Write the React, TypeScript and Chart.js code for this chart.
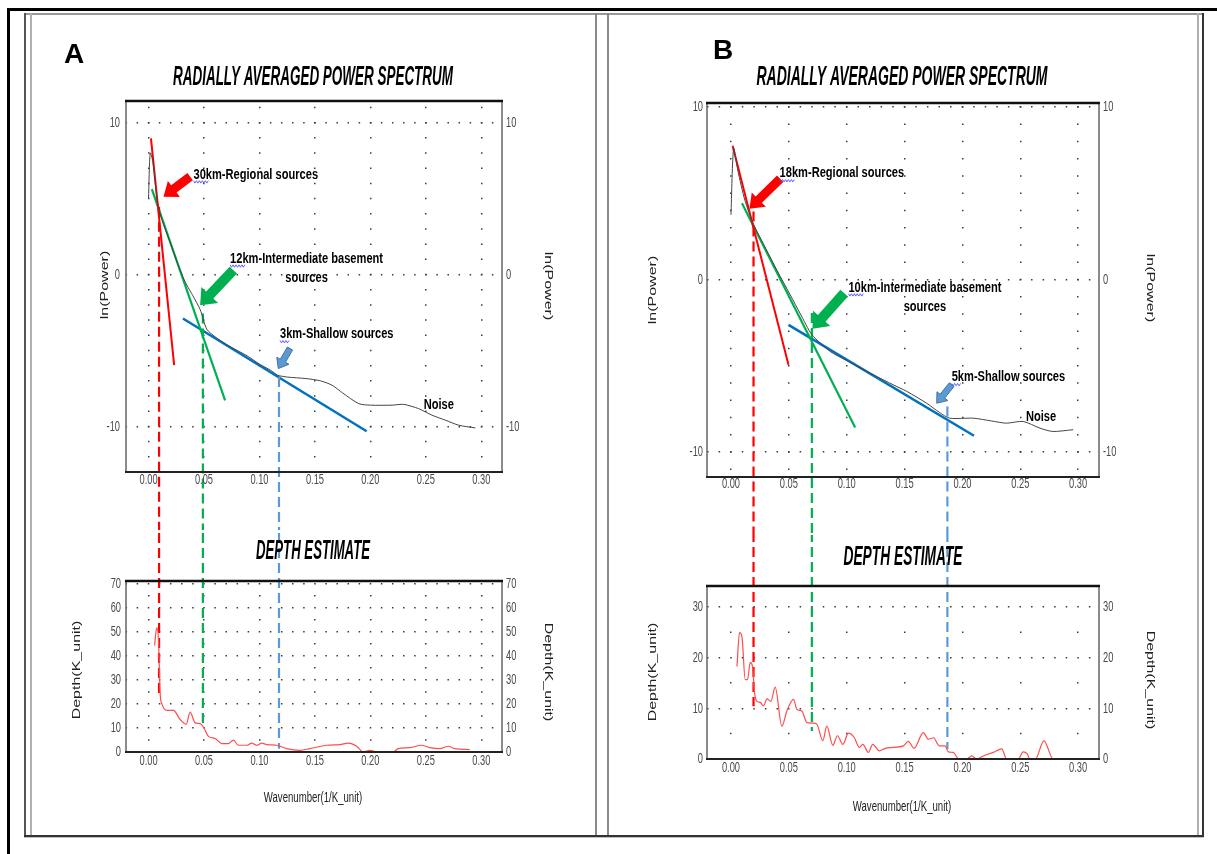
import React, { useEffect, useRef } from "react";
import { Chart, registerables } from "chart.js";

Chart.register(...registerables);
Chart.defaults.font.family = '"Liberation Sans", Arial, sans-serif';

// ---------------- shared ticks ----------------
const wavenumberTicks = [0, 0.05, 0.1, 0.15, 0.2, 0.25, 0.3];
const powerTicks = [-10, 0, 10];
const depthTicksA = [0, 10, 20, 30, 40, 50, 60, 70];
const depthTicksB = [0, 10, 20, 30];

// ---------------- Panel A ----------------
const spectrumAX = [0, 0.0015, 0.004, 0.009, 0.02, 0.03, 0.0345, 0.04, 0.0465, 0.0525, 0.06, 0.07, 0.08, 0.09, 0.1, 0.11, 0.1165, 0.125, 0.142, 0.155, 0.1655, 0.175, 0.1895, 0.2, 0.2195, 0.23, 0.2435, 0.2555, 0.268, 0.2795, 0.2945];
const spectrumAY = [5.0, 8.0, 7.4, 4.4, 2.0, 0.0, -0.7, -1.4, -2.3, -3.6, -4.1, -4.6, -5.0, -5.4, -5.9, -6.3, -6.63, -6.75, -6.85, -7.0, -7.29, -7.8, -8.5, -8.6, -8.6, -8.55, -8.83, -9.26, -9.6, -9.92, -10.1];
const fitRedAX = [0.0022, 0.0231];
const fitRedAY = [8.96, -5.97];
const fitGreenAX = [0.003, 0.069];
const fitGreenAY = [5.62, -8.28];
const fitBlueAX = [0.031, 0.1966];
const fitBlueAY = [-2.9, -10.32];
const breakAX = [0.0095, 0.049, 0.1176];
const breakAPower = [4.46, -2.57, -6.74];
const breakADepth = [23.6, 11.8, 1.4];
const depthAX = [0.0054, 0.0075, 0.009, 0.0105, 0.012, 0.0166, 0.0225, 0.0285, 0.034, 0.0375, 0.042, 0.0465, 0.0495, 0.054, 0.06, 0.066, 0.072, 0.0765, 0.081, 0.0886, 0.093, 0.0976, 0.102, 0.1066, 0.1156, 0.1246, 0.1366, 0.1455, 0.1606, 0.1726, 0.18, 0.1876, 0.1935, 0.1995, 0.2056, 0.2205, 0.225, 0.2355, 0.246, 0.2535, 0.2625, 0.27, 0.276, 0.2895];
const depthAY = [44.3, 51.7, 46.4, 24.3, 20.1, 17.3, 17.3, 13.5, 11.5, 16.6, 12.1, 11.8, 10.4, 6.5, 5.6, 3.5, 3.5, 4.9, 2.8, 2.8, 3.7, 2.8, 3.7, 3.1, 2.8, 1.4, 0.7, 1.4, 2.8, 3.1, 3.7, 2.4, 0, 0.7, 0, 0, 1.4, 1.8, 2.8, 1.8, 1.4, 2.4, 1.4, 1.0];
const notesA = ["30km-Regional sources", "12km-Intermediate basement\nsources", "3km-Shallow sources", "Noise"];
const notesAX = [0.0405, 0.0735, 0.1185, 0.248];
const notesAY = [6.59, 1.05, -3.93, -8.6];
const arrowATailX = [0.0375, 0.0764, 0.1275];
const arrowATailY = [6.44, 0.29, -4.87];
const arrowATipX = [0.0135, 0.0465, 0.117];
const arrowATipY = [5.12, -2.02, -6.19];

// ---------------- Panel B ----------------
const spectrumBX = [0, 0.0023, 0.006, 0.012, 0.0195, 0.03, 0.04, 0.0512, 0.06, 0.07, 0.0857, 0.1, 0.123, 0.14, 0.152, 0.169, 0.18, 0.189, 0.2094, 0.225, 0.238, 0.2525, 0.267, 0.278, 0.2957];
const spectrumBY = [3.75, 7.6, 6.3, 4.6, 3.2, 1.8, 0.5, -0.89, -2.0, -3.2, -4.17, -4.7, -5.52, -6.1, -6.49, -7.17, -7.7, -8.04, -8.04, -8.2, -8.33, -8.23, -8.62, -8.81, -8.71];
const fitRedBX = [0.0014, 0.0497];
const fitRedBY = [7.75, -4.95];
const fitGreenBX = [0.0095, 0.1073];
const fitGreenBY = [4.42, -8.58];
const fitBlueBX = [0.0497, 0.21];
const fitBlueBY = [-2.63, -9.06];
const breakBX = [0.0195, 0.0699, 0.187];
const breakBPower = [3.94, -1.95, -7.36];
const breakBDepth = [10.45, 5.55, 2.0];
const depthBX = [0.0052, 0.0074, 0.0095, 0.0123, 0.0143, 0.0167, 0.0186, 0.0204, 0.0224, 0.0253, 0.0281, 0.0311, 0.0345, 0.0382, 0.044, 0.0483, 0.054, 0.057, 0.0613, 0.0656, 0.0713, 0.0742, 0.0794, 0.0828, 0.088, 0.092, 0.0967, 0.1015, 0.1064, 0.111, 0.1139, 0.1188, 0.1225, 0.1283, 0.1332, 0.1403, 0.149, 0.1533, 0.1582, 0.1662, 0.1706, 0.1749, 0.18, 0.185, 0.1878, 0.1921, 0.1964, 0.2037, 0.208, 0.2123, 0.218, 0.2266, 0.2339, 0.2382, 0.2482, 0.2525, 0.256, 0.2583, 0.263, 0.2704, 0.2784, 0.2885];
const depthBY = [18.3, 25, 24.2, 15.7, 15.7, 19.1, 18.3, 13.1, 11.4, 11.2, 10.5, 11.9, 11.4, 14.2, 6.5, 9.5, 11.8, 9.8, 9.5, 7.2, 7.1, 6.9, 3.6, 6.5, 2.7, 4.6, 2.9, 5.1, 4.3, 2.3, 2.9, 1.3, 2.9, 1.6, 2.1, 2.3, 2.6, 3.5, 2.1, 5.2, 3.9, 4.2, 2.6, 2.6, 1.4, 1.3, 0.1, 0, 0.6, 0, 0.6, 1.3, 2.0, 0, 0, 1.4, 1.0, 0, 0, 3.6, 0, 0];
const notesB = ["18km-Regional sources", "10km-Intermediate basement\nsources", "5km-Shallow sources", "Noise"];
const notesBX = [0.042, 0.1015, 0.1907, 0.2549];
const notesBY = [6.16, -0.46, -5.66, -7.94];
const arrowBTailX = [0.0425, 0.0978, 0.1907];
const arrowBTailY = [5.84, -0.79, -6.1];
const arrowBTipX = [0.016, 0.0704, 0.1778];
const arrowBTipY = [4.1, -2.86, -7.17];

// ---------------- styles ----------------
const SQ = 0.64;
const SANS = '"Liberation Sans", Arial, sans-serif';
const TITLE_FONT = `italic bold 27px ${SANS}`;
const AXIS_FONT_V = `16px ${SANS}`;
const AXIS_FONT_H = `15px ${SANS}`;
const NOTE_FONT = `bold 15px ${SANS}`;
const NOTE_SX = 0.74;
const NOTE_LH = 19;
const TICK_FONT_CSS = `15px ${SANS}`;
const TICK_SX = 0.62;
const TICK_COLOR = "#4a4a4a";
const GRID_COLOR = "#3a3a3a";
const RED = "#ff0000";
const GREEN = "#00b050";
const BLUE = "#0070c0";
const LIGHT_BLUE = "#5b9bd5";
const DASH_COLORS = [RED, GREEN, LIGHT_BLUE];
const ARROW_STYLES = [
  { fill: "#ff0000", stroke: "", shaft: 9, head: 20, headLen: 13 },
  { fill: "#00b050", stroke: "", shaft: 10, head: 23, headLen: 14 },
  { fill: "#5b9bd5", stroke: "#41719c", shaft: 6, head: 14, headLen: 9 },
];

type TextItem = { text: string; x: number; y: number; font: string; color: string; rot?: number; sx?: number; width?: number };
type Spec = {
  left: number; top: number; width: number; height: number;
  padTop: number; leftW: number; rightW: number; bottomH: number;
  xMin: number; xMax: number; yMin: number; yMax: number; yTicks: number[];
  leftPad: number; rightPad: number; xLabelDy: number;
  colDash: number[]; colOff: number; rowDash: number[]; rowOff: number;
  datasets: any[];
  texts: TextItem[];
  notes?: { texts: string[]; xs: number[]; ys: number[] };
  arrows?: { x0: number[]; y0: number[]; x1: number[]; y1: number[] };
};

const pts = (xs: number[], ys: number[]) => xs.map((x, i) => ({ x, y: ys[i] }));
const lineDs = (data: any[], color: string, width: number, extra: any = {}) => ({
  data, showLine: true, borderColor: color, backgroundColor: color, borderWidth: width,
  pointRadius: 0, pointHoverRadius: 0, fill: false, ...extra,
});

function fillSquashed(ctx: CanvasRenderingContext2D, t: TextItem, ox: number, oy: number) {
  ctx.save();
  ctx.font = t.font;
  ctx.fillStyle = t.color;
  ctx.textAlign = "center";
  ctx.textBaseline = "middle";
  let sx = t.sx ?? 1;
  if (t.width) sx = t.width / ctx.measureText(t.text).width;
  ctx.translate(t.x - ox, t.y - oy);
  ctx.scale(sx, 1);
  if (t.rot) ctx.rotate(t.rot);
  ctx.fillText(t.text, 0, 0);
  ctx.restore();
}

function tickText(ctx: CanvasRenderingContext2D, text: string, x: number, y: number, align: CanvasTextAlign) {
  ctx.save();
  ctx.font = TICK_FONT_CSS;
  ctx.fillStyle = TICK_COLOR;
  ctx.textBaseline = "middle";
  ctx.textAlign = align;
  ctx.translate(x, y);
  ctx.scale(TICK_SX, 1);
  ctx.fillText(text, 0, 0);
  ctx.restore();
}

function drawNote(ctx: CanvasRenderingContext2D, text: string, px: number, py: number) {
  const lines = text.split("\n");
  ctx.save();
  ctx.font = NOTE_FONT;
  ctx.fillStyle = "#000";
  ctx.textBaseline = "middle";
  ctx.translate(px, py);
  ctx.scale(NOTE_SX, 1);
  ctx.textAlign = "left";
  ctx.fillText(lines[0], 0, 0);
  const w0 = ctx.measureText(lines[0]).width;
  const m = lines[0].match(/^\d+/);
  if (m) {
    const w = ctx.measureText(m[0]).width + 4;
    ctx.beginPath();
    ctx.strokeStyle = "#4b4bff";
    ctx.lineWidth = 1;
    for (let x = 0, k = 0; x <= w; x += 2, k++) {
      const y = 7.5 + (k % 2 ? 1.2 : -1.2);
      if (k === 0) ctx.moveTo(x, y); else ctx.lineTo(x, y);
    }
    ctx.stroke();
  }
  ctx.textAlign = "center";
  for (let i = 1; i < lines.length; i++) ctx.fillText(lines[i], w0 / 2, i * NOTE_LH);
  ctx.restore();
}

function drawArrow(ctx: CanvasRenderingContext2D, x0: number, y0: number, x1: number, y1: number, st: any) {
  const dx = x1 - x0, dy = y1 - y0;
  const L = Math.hypot(dx, dy) || 1;
  const ux = dx / L, uy = dy / L, nx = -uy, ny = ux;
  const bx = x1 - ux * st.headLen, by = y1 - uy * st.headLen;
  const s = st.shaft / 2, h = st.head / 2;
  ctx.save();
  ctx.beginPath();
  ctx.moveTo(x0 + nx * s, y0 + ny * s);
  ctx.lineTo(bx + nx * s, by + ny * s);
  ctx.lineTo(bx + nx * h, by + ny * h);
  ctx.lineTo(x1, y1);
  ctx.lineTo(bx - nx * h, by - ny * h);
  ctx.lineTo(bx - nx * s, by - ny * s);
  ctx.lineTo(x0 - nx * s, y0 - ny * s);
  ctx.closePath();
  ctx.fillStyle = st.fill;
  ctx.fill();
  if (st.stroke) { ctx.strokeStyle = st.stroke; ctx.lineWidth = 1; ctx.stroke(); }
  ctx.restore();
}

function makePlugin(s: Spec) {
  return {
    id: "decor",
    afterDatasetsDraw(chart: any) {
      const ctx: CanvasRenderingContext2D = chart.ctx;
      const { left, right, top, bottom } = chart.chartArea;
      ctx.save();
      ctx.strokeStyle = "#666";
      ctx.lineWidth = 1.5;
      ctx.beginPath();
      ctx.moveTo(left, top); ctx.lineTo(left, bottom);
      ctx.moveTo(right, top); ctx.lineTo(right, bottom);
      ctx.stroke();
      ctx.strokeStyle = "#111";
      ctx.lineWidth = 2.5;
      ctx.beginPath(); ctx.moveTo(left - 1, top); ctx.lineTo(right + 1, top); ctx.stroke();
      ctx.strokeStyle = "#222";
      ctx.lineWidth = 2;
      ctx.beginPath(); ctx.moveTo(left - 1, bottom); ctx.lineTo(right + 1, bottom); ctx.stroke();
      ctx.restore();
    },
    afterDraw(chart: any) {
      const ctx: CanvasRenderingContext2D = chart.ctx;
      const { left, right, bottom } = chart.chartArea;
      const xs = chart.scales.x, ys = chart.scales.y, ys2 = chart.scales.y2;
      // tick labels, placed by the library's scales
      xs.ticks.forEach((t: any) => tickText(ctx, Number(t.value).toFixed(2), xs.getPixelForValue(t.value), bottom + s.xLabelDy, "center"));
      ys.ticks.forEach((t: any) => tickText(ctx, String(t.value), left - s.leftPad, ys.getPixelForValue(t.value), "right"));
      ys2.ticks.forEach((t: any) => tickText(ctx, String(t.value), right + s.rightPad, ys2.getPixelForValue(t.value), "left"));
      if (s.arrows) {
        const a = s.arrows;
        a.x0.forEach((_, i) => drawArrow(ctx,
          xs.getPixelForValue(a.x0[i]), ys.getPixelForValue(a.y0[i]),
          xs.getPixelForValue(a.x1[i]), ys.getPixelForValue(a.y1[i]), ARROW_STYLES[i]));
      }
      if (s.notes) {
        const n = s.notes;
        n.texts.forEach((t, i) => drawNote(ctx, t, xs.getPixelForValue(n.xs[i]), ys.getPixelForValue(n.ys[i])));
      }
      s.texts.forEach((t) => fillSquashed(ctx, t, s.left, s.top));
    },
  };
}

function buildConfig(s: Spec): any {
  const tickList = (vals: number[]) => (sc: any) => { sc.ticks = vals.map((v) => ({ value: v })); };
  return {
    type: "scatter",
    data: { datasets: s.datasets },
    options: {
      animation: false,
      responsive: false,
      events: [],
      layout: { padding: { top: s.padTop, left: 0, right: 0, bottom: 0 } },
      plugins: { legend: { display: false }, tooltip: { enabled: false }, title: { display: false } },
      scales: {
        x: {
          type: "linear", position: "bottom", min: s.xMin, max: s.xMax,
          afterBuildTicks: tickList(wavenumberTicks),
          afterFit: (sc: any) => { sc.height = s.bottomH; },
          ticks: { display: false },
          grid: { color: GRID_COLOR, lineWidth: 1.5, drawTicks: false },
          border: { display: false, dash: s.colDash, dashOffset: s.colOff },
        },
        y: {
          type: "linear", position: "left", min: s.yMin, max: s.yMax,
          afterBuildTicks: tickList(s.yTicks),
          afterFit: (sc: any) => { sc.width = s.leftW; },
          ticks: { display: false },
          grid: { color: GRID_COLOR, lineWidth: 1.5, drawTicks: false },
          border: { display: false, dash: s.rowDash, dashOffset: s.rowOff },
        },
        y2: {
          type: "linear", position: "right", min: s.yMin, max: s.yMax,
          afterBuildTicks: tickList(s.yTicks),
          afterFit: (sc: any) => { sc.width = s.rightW; },
          ticks: { display: false },
          grid: { display: false, drawTicks: false },
          border: { display: false },
        },
      },
    },
    plugins: [makePlugin(s)],
  };
}

// ---------------- chart specs ----------------
const HALF_PI = Math.PI / 2;
const DASH = [10, 5];

const powerRangeA = { min: -13.0, max: 11.42 };
const powerRangeB = { min: -11.45, max: 10.23 };
const depthRangeA = { min: 0, max: 71.1 };
const depthRangeB = { min: 0, max: 34.2 };

function spectrumSets(sx: number[], sy: number[], fits: number[][][], bx: number[], bp: number[], floor: number) {
  const fitColors = [RED, GREEN, BLUE];
  const fitWidths = [2, 2.2, 2.5];
  return [
    lineDs(pts(sx, sy), "#444", 1, { tension: 0.25 }),
    ...bx.map((x, i) => lineDs([{ x, y: bp[i] }, { x, y: floor }], DASH_COLORS[i], 2.2, { borderDash: DASH, clip: false })),
    ...fits.map((f, i) => lineDs(pts(f[0], f[1]), fitColors[i], fitWidths[i])),
  ];
}
function depthSets(dx: number[], dy: number[], bx: number[], bd: number[], ceil: number) {
  return [
    lineDs(pts(dx, dy), "#ff4d4d", 1.2, { cubicInterpolationMode: "monotone" }),
    ...bx.map((x, i) => lineDs([{ x, y: ceil }, { x, y: bd[i] }], DASH_COLORS[i], 2.2, { borderDash: DASH, clip: false })),
  ];
}

const SPECS: Spec[] = [
  {
    left: 40, top: 30, width: 550, height: 500, padTop: 71, leftW: 86, rightW: 88, bottomH: 58,
    xMin: -0.0203, xMax: 0.3186, yMin: powerRangeA.min, yMax: powerRangeA.max, yTicks: powerTicks,
    leftPad: 6, rightPad: 4, xLabelDy: 7.5,
    colDash: [1.5, 13.69], colOff: 9.5, rowDash: [1.5, 9.6], rowOff: 0.45,
    datasets: spectrumSets(spectrumAX, spectrumAY,
      [[fitRedAX, fitRedAY], [fitGreenAX, fitGreenAY], [fitBlueAX, fitBlueAY]],
      breakAX, breakAPower, powerRangeA.min - 30),
    texts: [
      { text: "A", x: 74, y: 55, font: `bold 28px ${SANS}`, color: "#000" },
      { text: "RADIALLY AVERAGED POWER SPECTRUM", x: 313, y: 78, font: TITLE_FONT, color: "#000", width: 280 },
      { text: "ln(Power)", x: 105, y: 285, font: AXIS_FONT_V, color: "#222", rot: -HALF_PI, sx: SQ },
      { text: "ln(Power)", x: 548, y: 286, font: AXIS_FONT_V, color: "#222", rot: HALF_PI, sx: SQ },
    ],
    notes: { texts: notesA, xs: notesAX, ys: notesAY },
    arrows: { x0: arrowATailX, y0: arrowATailY, x1: arrowATipX, y1: arrowATipY },
  },
  {
    left: 40, top: 530, width: 550, height: 300, padTop: 51, leftW: 86, rightW: 88, bottomH: 78,
    xMin: -0.0203, xMax: 0.3186, yMin: depthRangeA.min, yMax: depthRangeA.max, yTicks: depthTicksA,
    leftPad: 5, rightPad: 4, xLabelDy: 9,
    colDash: [1.5, 22.55], colOff: 10.1, rowDash: [1.5, 9.6], rowOff: 0.45,
    datasets: depthSets(depthAX, depthAY, breakAX, breakADepth, depthRangeA.max * 4),
    texts: [
      { text: "DEPTH ESTIMATE", x: 313, y: 552, font: TITLE_FONT, color: "#000", width: 114 },
      { text: "Depth(K_unit)", x: 77, y: 670, font: AXIS_FONT_V, color: "#222", rot: -HALF_PI, sx: SQ },
      { text: "Depth(K_unit)", x: 548, y: 672, font: AXIS_FONT_V, color: "#222", rot: HALF_PI, sx: SQ },
      { text: "Wavenumber(1/K_unit)", x: 313, y: 798, font: AXIS_FONT_H, color: "#222", sx: SQ },
    ],
  },
  {
    left: 620, top: 30, width: 550, height: 505, padTop: 73, leftW: 87, rightW: 71, bottomH: 58,
    xMin: -0.0207, xMax: 0.318, yMin: powerRangeB.min, yMax: powerRangeB.max, yTicks: powerTicks,
    leftPad: 4, rightPad: 4, xLabelDy: 6.5,
    colDash: [1.5, 15.75], colOff: 14.05, rowDash: [1.5, 10.07], rowOff: 11.5,
    datasets: spectrumSets(spectrumBX, spectrumBY,
      [[fitRedBX, fitRedBY], [fitGreenBX, fitGreenBY], [fitBlueBX, fitBlueBY]],
      breakBX, breakBPower, powerRangeB.min - 30),
    texts: [
      { text: "B", x: 723, y: 51, font: `bold 28px ${SANS}`, color: "#000" },
      { text: "RADIALLY AVERAGED POWER SPECTRUM", x: 902, y: 78, font: TITLE_FONT, color: "#000", width: 291 },
      { text: "ln(Power)", x: 653, y: 290, font: AXIS_FONT_V, color: "#222", rot: -HALF_PI, sx: SQ },
      { text: "ln(Power)", x: 1150, y: 288, font: AXIS_FONT_V, color: "#222", rot: HALF_PI, sx: SQ },
    ],
    notes: { texts: notesB, xs: notesBX, ys: notesBY },
    arrows: { x0: arrowBTailX, y0: arrowBTailY, x1: arrowBTipX, y1: arrowBTipY },
  },
  {
    left: 620, top: 535, width: 550, height: 295, padTop: 51, leftW: 87, rightW: 71, bottomH: 71,
    xMin: -0.0207, xMax: 0.318, yMin: depthRangeB.min, yMax: depthRangeB.max, yTicks: depthTicksB,
    leftPad: 4, rightPad: 4, xLabelDy: 8.5,
    colDash: [1.5, 49.1], colOff: 5.1, rowDash: [1.5, 10.07], rowOff: 11.5,
    datasets: depthSets(depthBX, depthBY, breakBX, breakBDepth, depthRangeB.max * 4),
    texts: [
      { text: "DEPTH ESTIMATE", x: 903, y: 558, font: TITLE_FONT, color: "#000", width: 119 },
      { text: "Depth(K_unit)", x: 653, y: 672, font: AXIS_FONT_V, color: "#222", rot: -HALF_PI, sx: SQ },
      { text: "Depth(K_unit)", x: 1150, y: 680, font: AXIS_FONT_V, color: "#222", rot: HALF_PI, sx: SQ },
      { text: "Wavenumber(1/K_unit)", x: 902, y: 807, font: AXIS_FONT_H, color: "#222", sx: SQ },
    ],
  },
];

const FRAME_LINES = [
  { l: 8, t: 8, w: 1209, h: 3, c: "#000" },
  { l: 7, t: 8, w: 3, h: 846, c: "#000" },
  { l: 25, t: 13, w: 1179, h: 2, c: "#9a9a9a" },
  { l: 24, t: 13, w: 2, h: 824, c: "#555" },
  { l: 30, t: 13, w: 2, h: 823, c: "#b0b0b0" },
  { l: 595, t: 13, w: 2, h: 823, c: "#8a8a8a" },
  { l: 607, t: 13, w: 2, h: 823, c: "#8a8a8a" },
  { l: 1197, t: 13, w: 2, h: 823, c: "#b0b0b0" },
  { l: 1202, t: 13, w: 2, h: 824, c: "#333" },
  { l: 24, t: 835, w: 1180, h: 2, c: "#333" },
  { l: 24, t: 837, w: 1180, h: 1, c: "#c0c0c0" },
];

export default function App() {
  const canvases = useRef<(HTMLCanvasElement | null)[]>([]);
  useEffect(() => {
    const charts = SPECS.map((s, i) => new Chart(canvases.current[i] as HTMLCanvasElement, buildConfig(s)));
    return () => { charts.forEach((c) => c.destroy()); };
  }, []);
  return (
    <div style={{ position: "absolute", left: 0, top: 0, width: 1217, height: 854, background: "#fff", overflow: "hidden" }}>
      {FRAME_LINES.map((f, i) => (
        <div key={"f" + i} style={{ position: "absolute", left: f.l, top: f.t, width: f.w, height: f.h, background: f.c }} />
      ))}
      {SPECS.map((s, i) => (
        <canvas
          key={"c" + i}
          ref={(el) => { canvases.current[i] = el; }}
          width={s.width}
          height={s.height}
          style={{ position: "absolute", left: s.left, top: s.top, width: s.width, height: s.height }}
        />
      ))}
    </div>
  );
}
